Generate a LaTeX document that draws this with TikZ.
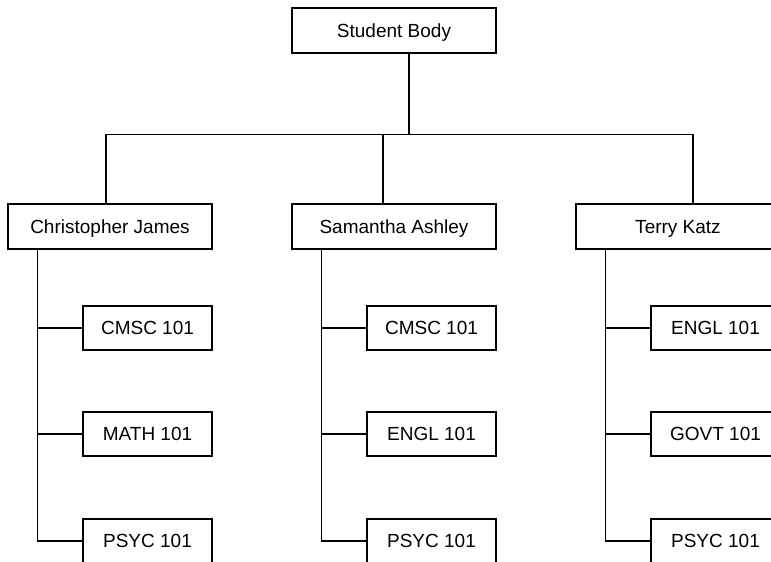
\documentclass[tikz,border=0pt]{standalone}
\usepackage{fontspec}
\setmainfont{Liberation Sans}
\begin{document}
\begin{tikzpicture}[x=1pt, y=-1pt, line width=1.1pt,
    person/.style={draw, minimum width=204pt, minimum height=45pt, text height=13.8pt, text depth=0pt, font=\fontsize{19}{22}\selectfont},
    course/.style={draw, minimum width=129pt, minimum height=44pt, text height=13.8pt, text depth=0pt, font=\fontsize{19}{22}\selectfont}]
    \useasboundingbox (0,0) rectangle (771,562);
    \clip (0,0) rectangle (771,562);

    % Top and second level
    \node[person] (root)  at (394,30.5)  {Student Body};
    \node[person] (chris) at (110,226.5) {Christopher James};
    \node[person] (sam)   at (394,226.5) {Samantha Ashley};
    \node[person] (terry) at (678,226.5) {Terry Katz};

    % Courses
    \node[course] (chris1) at (147.5,328) {CMSC 101};
    \node[course] (chris2) at (147.5,434) {MATH 101};
    \node[course] (chris3) at (147.5,541) {PSYC 101};
    \node[course] (sam1) at (431.5,328) {CMSC 101};
    \node[course] (sam2) at (431.5,434) {ENGL 101};
    \node[course] (sam3) at (431.5,541) {PSYC 101};
    \node[course] (terry1) at (715.5,328) {ENGL 101};
    \node[course] (terry2) at (715.5,434) {GOVT 101};
    \node[course] (terry3) at (715.5,541) {PSYC 101};

    % Bus between the levels
    \draw ([xshift=15pt]root.south) -- ++(0,81) coordinate (bus);
    \draw ([xshift=-4pt]chris.north) |- (bus) -| ([xshift=15pt]terry.north);
    \draw ([xshift=-11pt]sam.north) |- (bus);

    % Trunks and branches
    \foreach \p in {chris,sam,terry} {
        \draw ([xshift=30pt]\p.south west) |- (\p3.west);
        \foreach \i in {1,2} \draw (\p\i.west) -- ++(-45,0);
    }
\end{tikzpicture}
\end{document}
